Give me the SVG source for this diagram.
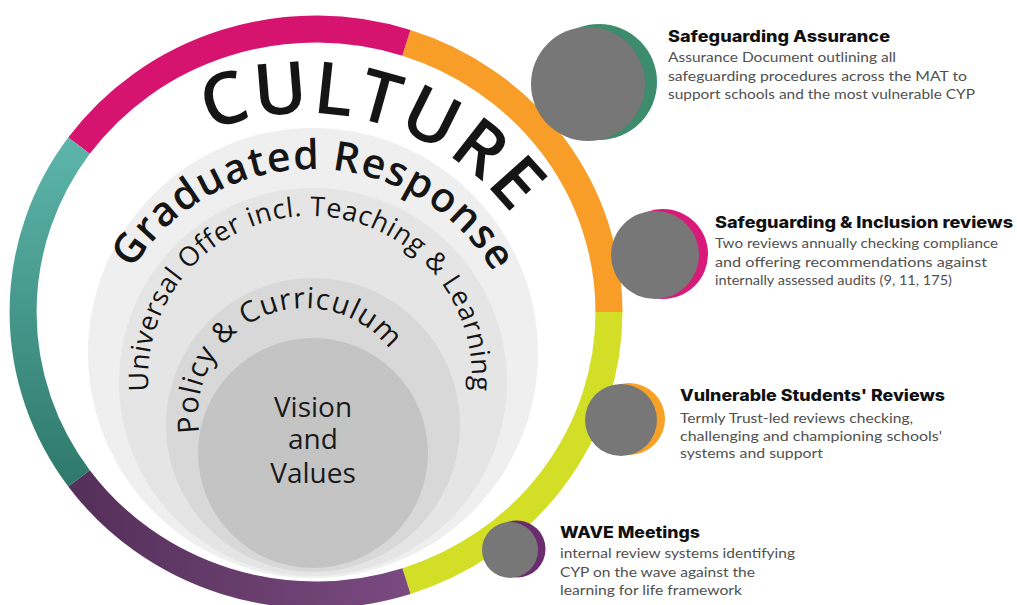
<svg xmlns="http://www.w3.org/2000/svg" width="1017" height="605" viewBox="0 0 1017 605">
  <style>
    .seg { fill: none; stroke-width: 27; stroke-linecap: butt; }
    .arc { font-family: "Open Sans", "Noto Sans", sans-serif; fill: #151515; }
    .core { font-family: "Open Sans", "Noto Sans", sans-serif; font-size: 28px; font-weight: 500; fill: #1a1a1a; text-anchor: middle; }
    .title { font-family: "Inter", "Lato", sans-serif; font-weight: 800; font-size: 16px; fill: #111; }
    .body { font-family: "Lato", "Open Sans", sans-serif; font-size: 14px; fill: #505050; }
    .dot { fill: #777777; }
  </style>
  <defs>
    <linearGradient id="gTeal" x1="0" y1="0" x2="0" y2="1">
      <stop offset="0" stop-color="#5cb4a9"/>
      <stop offset="1" stop-color="#2f7a6c"/>
    </linearGradient>
    <linearGradient id="gPurple" x1="0" y1="0" x2="1" y2="0">
      <stop offset="0" stop-color="#55305a"/>
      <stop offset="1" stop-color="#7a4a80"/>
    </linearGradient>
    <path id="pCulture" d="M 43 375 A 262 262 0 0 1 567 375"/>
    <path id="pGrad" d="M 113.7 452.2 A 211 211 0 1 1 510.3 452.2"/>
    <path id="pUniv" d="M 157.8 433.4 A 162 162 0 1 1 462.2 433.4"/>
    <path id="pPolicy" d="M 212.3 468.5 A 107 107 0 1 1 397.7 468.5"/>
  </defs>

  <rect width="1017" height="605" fill="#ffffff"/>

  <g id="ring">
    <path class="seg" stroke="#d6136f" d="M 79 145.7 A 293 283 0 0 1 406.5 42.9"/>
    <path class="seg" stroke="#f89d28" d="M 406.5 42.9 A 293 283 0 0 1 609 312"/>
    <path class="seg" stroke="#d3df27" d="M 609 312 A 293 283 0 0 1 406.5 581.1"/>
    <path class="seg" stroke="url(#gPurple)" d="M 406.5 581.1 A 293 283 0 0 1 79 478.3"/>
    <path class="seg" stroke="url(#gTeal)" d="M 79 478.3 A 293 283 0 0 1 79 145.7"/>
  </g>

  <g id="core-disks">
    <circle cx="313" cy="353" r="225" fill="#efefef"/>
    <circle cx="313" cy="382" r="194" fill="#e5e5e5"/>
    <circle cx="313" cy="425" r="147" fill="#d8d8d8"/>
    <circle cx="313" cy="453" r="115" fill="#c4c4c4"/>
  </g>

  <g id="culture-label">
    <text class="arc" font-size="72" font-weight="600" letter-spacing="3"><textPath href="#pCulture" startOffset="483" text-anchor="middle">CULTURE</textPath></text>
  </g>
  <g id="graduated-response">
    <text class="arc" font-size="41" font-weight="600" letter-spacing="1.2"><textPath href="#pGrad" startOffset="50.3%" text-anchor="middle">Graduated Response</textPath></text>
  </g>
  <g id="universal-offer">
    <text class="arc" font-size="27" font-weight="500" letter-spacing="0.6"><textPath href="#pUniv" startOffset="50%" text-anchor="middle">Universal Offer incl. Teaching &amp; Learning</textPath></text>
  </g>
  <g id="policy-curriculum">
    <text class="arc" font-size="29" font-weight="500" letter-spacing="1"><textPath href="#pPolicy" startOffset="180.2" text-anchor="middle">Policy &amp; Curriculum</textPath></text>
  </g>
  <g id="vision-values">
    <text class="core" x="313" y="417">Vision</text>
    <text class="core" x="313" y="449">and</text>
    <text class="core" x="313" y="483">Values</text>
  </g>

  <g id="safeguarding-assurance">
    <circle cx="599" cy="82" r="58" fill="#3d8c6e"/>
    <circle class="dot" cx="588" cy="84" r="57"/>
    <text class="title" x="668" y="42" textLength="222" lengthAdjust="spacingAndGlyphs">Safeguarding Assurance</text>
    <text class="body" x="668" y="62" textLength="228" lengthAdjust="spacingAndGlyphs">Assurance Document outlining all</text>
    <text class="body" x="668" y="81" textLength="299" lengthAdjust="spacingAndGlyphs">safeguarding procedures across the MAT to</text>
    <text class="body" x="668" y="99" textLength="307" lengthAdjust="spacingAndGlyphs">support schools and the most vulnerable CYP</text>
  </g>

  <g id="inclusion-reviews">
    <circle cx="663" cy="254" r="45" fill="#d81b78"/>
    <circle class="dot" cx="655" cy="255" r="44"/>
    <text class="title" x="715" y="228" textLength="298" lengthAdjust="spacingAndGlyphs">Safeguarding &amp; Inclusion reviews</text>
    <text class="body" x="715" y="248" textLength="283" lengthAdjust="spacingAndGlyphs">Two reviews annually checking compliance</text>
    <text class="body" x="715" y="267" textLength="272" lengthAdjust="spacingAndGlyphs">and offering recommendations against</text>
    <text class="body" x="715" y="285" textLength="237" lengthAdjust="spacingAndGlyphs">internally assessed audits (9, 11, 175)</text>
  </g>

  <g id="vulnerable-students">
    <circle cx="629" cy="419" r="36" fill="#f7a126"/>
    <circle class="dot" cx="621" cy="420" r="36"/>
    <text class="title" x="680" y="401" textLength="265" lengthAdjust="spacingAndGlyphs">Vulnerable Students' Reviews</text>
    <text class="body" x="680" y="423" textLength="233" lengthAdjust="spacingAndGlyphs">Termly Trust-led reviews checking,</text>
    <text class="body" x="680" y="441" textLength="262" lengthAdjust="spacingAndGlyphs">challenging and championing schools'</text>
    <text class="body" x="680" y="458" textLength="143" lengthAdjust="spacingAndGlyphs">systems and support</text>
  </g>

  <g id="wave-meetings">
    <circle cx="517" cy="549" r="28.5" fill="#6a2c6e"/>
    <circle class="dot" cx="510" cy="550" r="28"/>
    <text class="title" x="560" y="538" textLength="140" lengthAdjust="spacingAndGlyphs">WAVE Meetings</text>
    <text class="body" x="560" y="558" textLength="235" lengthAdjust="spacingAndGlyphs">internal review systems identifying</text>
    <text class="body" x="560" y="577" textLength="195" lengthAdjust="spacingAndGlyphs">CYP on the wave against the</text>
    <text class="body" x="560" y="595" textLength="182" lengthAdjust="spacingAndGlyphs">learning for life framework</text>
  </g>
</svg>
